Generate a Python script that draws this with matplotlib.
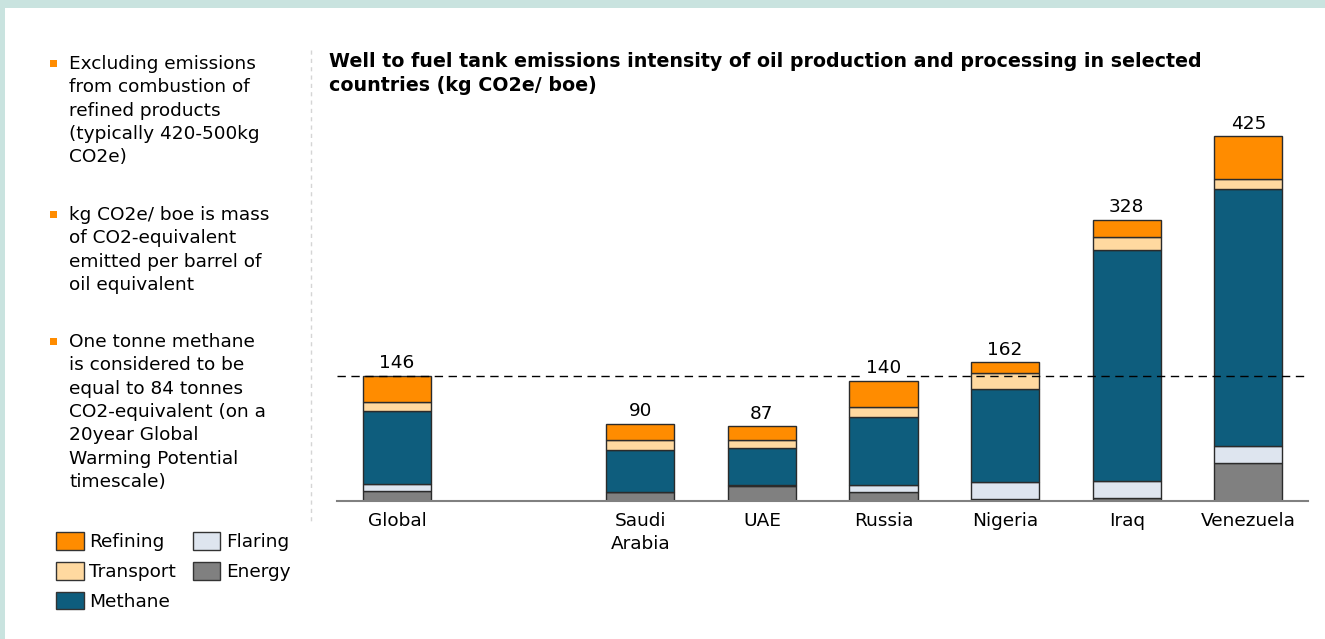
import matplotlib
matplotlib.use('Agg')
import matplotlib.pyplot as plt
from matplotlib.patches import Rectangle, Patch
from matplotlib.lines import Line2D
import numpy as np

W, H = 1325, 639

countries = ['Global', 'Saudi\nArabia', 'UAE', 'Russia', 'Nigeria', 'Iraq', 'Venezuela']
xpos = [0, 2, 3, 4, 5, 6, 7]
totals = [146, 90, 87, 140, 162, 328, 425]

energy = [12, 10, 18, 10, 2, 3, 44]
flaring = [8, 0.5, 0.5, 9, 20.5, 20.5, 20.5]
methane = [85, 49, 43, 79, 108.5, 269, 299.5]
transport = [10, 12, 10, 12, 18.5, 15, 11]
refining = [31, 18.5, 15.5, 30, 12.5, 20.5, 50]

series = [('Energy', energy, '#808080'),
          ('Flaring', flaring, '#dee5ef'),
          ('Methane', methane, '#0e5d7d'),
          ('Transport', transport, '#ffd9a0'),
          ('Refining', refining, '#ff8c00')]

notes = [
    ['Excluding emissions', 'from combustion of', 'refined products',
     '(typically 420-500kg', 'CO2e)'],
    ['kg CO2e/ boe is mass', 'of CO2-equivalent', 'emitted per barrel of',
     'oil equivalent'],
    ['One tonne methane', 'is considered to be', 'equal to 84 tonnes',
     'CO2-equivalent (on a', '20year Global', 'Warming Potential',
     'timescale)'],
]
note_top = [64, 215, 342]

title = ('Well to fuel tank emissions intensity of oil production and processing in selected\n'
         'countries (kg CO2e/ boe)')

FS = 13.3

fig = plt.figure(figsize=(W / 100, H / 100), dpi=100)
fig.patch.set_facecolor('white')

def fx(px):
    return px / W

def fy(py):
    return 1 - py / H

# teal frame at top and left
fig.patches.append(Rectangle((0, fy(8)), 1, 8 / H, transform=fig.transFigure,
                             facecolor='#c9e3df', edgecolor='none'))
fig.patches.append(Rectangle((0, 0), 5 / W, 1, transform=fig.transFigure,
                             facecolor='#c9e3df', edgecolor='none'))

# dotted separator
fig.lines.append(Line2D([fx(311), fx(311)], [fy(50), fy(521)], transform=fig.transFigure,
                        color='#d5d5d5', lw=1, linestyle=(0, (3, 3))))

# axes
left, right, base, top_val = 337, 1308, 501, 460
ppu = 0.858
ax = fig.add_axes([fx(left), 1 - base / H, (right - left) / W, top_val * ppu / H])
ax.set_xlim(-0.493, 7.49)
ax.set_ylim(0, top_val)

bottom = np.zeros(len(countries))
for name, vals, col in series:
    ax.bar(xpos, vals, width=0.56, bottom=bottom, color=col,
           edgecolor='#2b2b2b', linewidth=1, zorder=2)
    bottom += np.array(vals)

ax.axhline(totals[0], color='black', lw=1, linestyle=(0, (6, 4)), zorder=3)

for x, t in zip(xpos, totals):
    ax.annotate(str(t), (x, t), xytext=(0, 2.5), textcoords='offset points',
                ha='center', va='bottom', fontsize=FS, zorder=4,
                bbox=dict(facecolor='white', edgecolor='none', pad=1))

for s in ['top', 'right', 'left']:
    ax.spines[s].set_visible(False)
ax.spines['bottom'].set_color('#808080')
ax.spines['bottom'].set_linewidth(1.5)
ax.set_yticks([])
ax.set_xticks(xpos)
ax.set_xticklabels(countries, fontsize=FS, linespacing=1.32)
ax.tick_params(axis='x', length=0, pad=8)

# title
fig.text(fx(329), fy(52), title, fontsize=13.7, fontweight='bold', ha='left', va='top',
         linespacing=1.35)

# bullet notes
for lines, y0 in zip(notes, note_top):
    fig.patches.append(Rectangle((fx(50), fy(y0 + 3)), 7 / W, 7 / H,
                                 transform=fig.transFigure, facecolor='#ff8c00',
                                 edgecolor='none'))
    for i, line in enumerate(lines):
        fig.text(fx(69), fy(y0 + i * 23.3), line, fontsize=FS, ha='left', va='center')

# legend
order = ['Refining', 'Transport', 'Methane', 'Flaring', 'Energy']
cols = {n: c for n, _, c in series}
handles = [Patch(facecolor=cols[n], edgecolor='#333333', linewidth=1, label=n) for n in order]
fig.legend(handles=handles, loc='upper left', bbox_to_anchor=(fx(56), fy(532)),
           ncol=2, frameon=False, fontsize=FS, handlelength=1.5, handleheight=1.1,
           handletextpad=0.3, labelspacing=0.58, columnspacing=0.9,
           borderpad=0, borderaxespad=0)

fig.savefig('out.png', dpi=100)
